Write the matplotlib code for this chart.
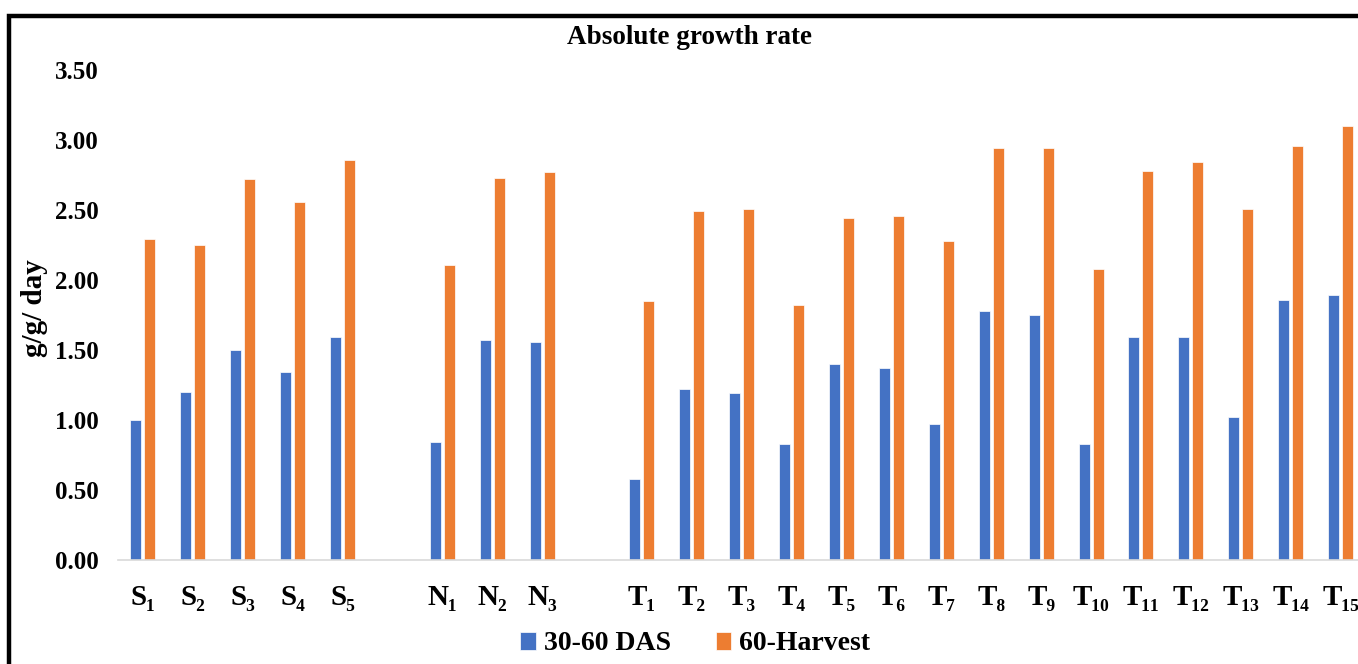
import matplotlib
matplotlib.use("Agg")
import matplotlib.pyplot as plt
from matplotlib.patches import Rectangle
import numpy as np

# Data
s_labels = ["S₁", "S₂", "S₃", "S₄", "S₅"]
n_labels = ["N₁", "N₂", "N₃"]
t_labels = ["T₁", "T₂", "T₃", "T₄", "T₅", "T₆", "T₇", "T₈", "T₉", "T₁₀",
            "T₁₁", "T₁₂", "T₁₃", "T₁₄", "T₁₅"]

s_das = [1.00, 1.20, 1.50, 1.34, 1.59]
s_harvest = [2.29, 2.25, 2.72, 2.56, 2.86]
n_das = [0.84, 1.57, 1.56]
n_harvest = [2.11, 2.73, 2.77]
t_das = [0.58, 1.22, 1.19, 0.83, 1.40, 1.37, 0.97, 1.78, 1.75, 0.83,
         1.59, 1.59, 1.02, 1.86, 1.89]
t_harvest = [1.85, 2.49, 2.51, 1.82, 2.44, 2.46, 2.28, 2.94, 2.94, 2.08,
             2.78, 2.84, 2.51, 2.96, 3.10]

plt.rcParams["font.family"] = ["Liberation Serif", "DejaVu Serif"]
plt.rcParams["font.weight"] = "bold"

BLUE = "#4472C4"
ORANGE = "#ED7D31"

# groups separated by one empty slot
groups = [(s_labels, s_das, s_harvest),
          (n_labels, n_das, n_harvest),
          (t_labels, t_das, t_harvest)]
pos, labels, das, harvest = [], [], [], []
start = 0
for lab, d, h in groups:
    pos += list(range(start, start + len(lab)))
    labels += lab
    das += d
    harvest += h
    start += len(lab) + 1
pos = np.array(pos)
nslots = start - 1

fig = plt.figure(figsize=(13.58, 6.64), dpi=100)
ax = fig.add_axes([118 / 1358, 104 / 664, nslots * 49.9 / 1358, 490 / 664])

w = 0.22
ax.bar(pos - 0.14, das, width=w, color=BLUE, edgecolor="white",
       linewidth=0.5, label="30-60 DAS")
ax.bar(pos + 0.14, harvest, width=w, color=ORANGE, edgecolor="white",
       linewidth=0.5, label="60-Harvest")

ax.set_xlim(-0.5, nslots - 0.5)
ax.set_ylim(0, 3.5)
ax.set_yticks(np.arange(0, 3.51, 0.5))
ax.set_yticklabels(["%.2f" % v for v in np.arange(0, 3.51, 0.5)])
ax.set_xticks(pos)
ax.set_xticklabels(labels)
ax.tick_params(axis="y", length=0, pad=14, labelsize=18)
ax.tick_params(axis="x", length=0, pad=17, labelsize=21)
for side in ["top", "right", "left"]:
    ax.spines[side].set_visible(False)
ax.spines["bottom"].set_color("#D9D9D9")
ax.spines["bottom"].set_linewidth(1.2)

fig.text(0.508, 1 - 37 / 664, "Absolute growth rate", ha="center",
         va="center", fontsize=19.5, fontweight="bold")
fig.text(35 / 1358, 1 - 308 / 664, "g/g/ day", rotation=90, ha="center",
         va="center", fontsize=21, fontweight="bold")

fig.legend(loc="center", bbox_to_anchor=(0.512, 20 / 664), ncol=2,
           frameon=False, fontsize=20, handlelength=0.55, handleheight=0.6,
           handletextpad=0.3, columnspacing=1.6)

# outer frame (cropped on right and bottom)
fig.patches.append(Rectangle((9 / 1358, -0.1), 1.2, 1 - 16 / 664 + 0.1,
                             transform=fig.transFigure, fill=False,
                             edgecolor="black", linewidth=3.2))

fig.savefig("out.png", dpi=100)
